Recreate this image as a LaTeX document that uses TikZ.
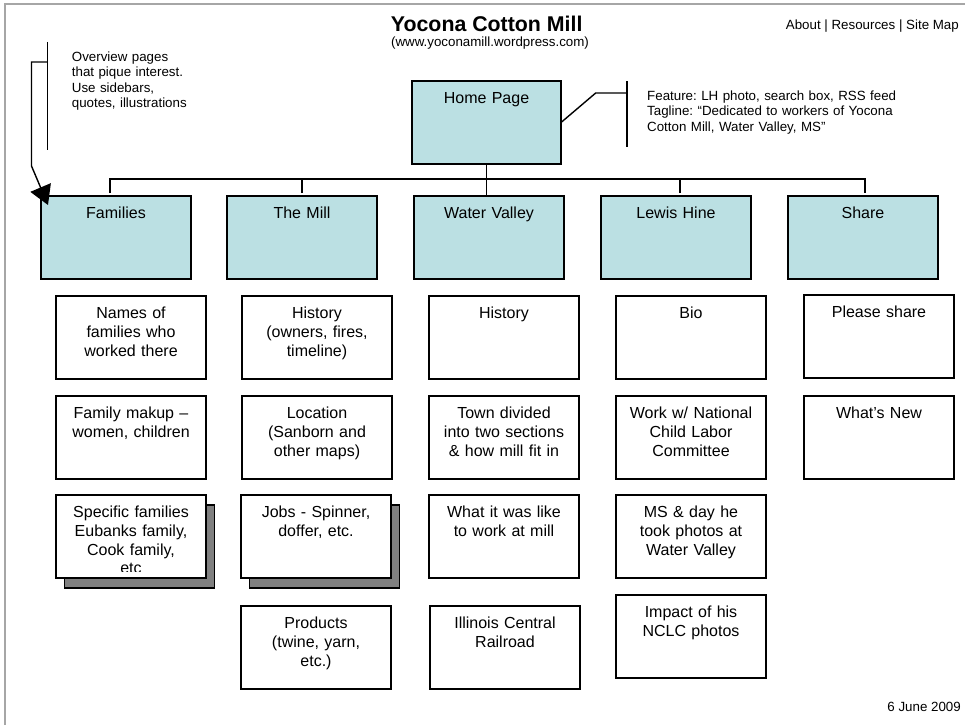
\documentclass[tikz,border=0pt]{standalone}
\usepackage{fontspec}
\setmainfont{Liberation Sans}
\usetikzlibrary{arrows.meta,calc}
\frenchspacing
\definecolor{boxcyan}{RGB}{187,224,227}
\definecolor{framegrey}{RGB}{166,166,166}
\definecolor{shadowgrey}{RGB}{128,128,128}
\tikzset{
  pg/.style={draw=black, line width=1.4pt, fill=boxcyan, minimum width=150pt, minimum height=83pt, anchor=north west, inner sep=0pt, outer sep=0pt},
  sub/.style={draw=black, line width=1.4pt, fill=white, minimum width=150pt, minimum height=83pt, anchor=north west, inner sep=0pt, outer sep=0pt},
  shadowbox/.style={draw=black, line width=1.4pt, fill=shadowgrey, minimum width=150pt, minimum height=83pt, anchor=north west, inner sep=0pt, outer sep=0pt},
  lbl/.style={anchor=base, align=center, text width=148pt, inner sep=0pt, font=\fontsize{16}{18.8}\selectfont},
  note/.style={anchor=base west, align=left, text width=300pt, inner sep=0pt, font=\fontsize{13.33}{15.5}\selectfont},
  conn/.style={line width=1.4pt, draw=black},
}
\begin{document}
\begin{tikzpicture}[x=1pt,y=-1pt]
\useasboundingbox (0,0) rectangle (965,725);
% page frame
\draw[framegrey, line width=1.8pt] (4.7,725) -- (4.7,4.3) -- (965,4.3);

% titles
\node[anchor=base, inner sep=0pt, font=\fontsize{21.33}{24}\selectfont\bfseries] (title) at (486.7,31.6) {Yocona Cotton Mill};
\node[anchor=base, inner sep=0pt, font=\fontsize{13.33}{15.5}\selectfont] (url) at (490,46) {(www.yoconamill.wordpress.com)};
\node[anchor=base east, inner sep=0pt, font=\fontsize{13.33}{15.5}\selectfont] (menu) at (959,29.5) {About | Resources | Site Map};
\node[anchor=base east, inner sep=0pt, font=\fontsize{13.33}{15.5}\selectfont] (date) at (961,711) {6 June 2009};

% home
\node[pg, minimum width=149pt] (home) at (412,81) {};
\node[lbl] (homeT) at ([yshift=-22pt]home.north) {Home Page};

% top level
\node[pg] (fam) at (41,196) {};
\node[pg] (mill) at (227,196) {};
\node[pg] (wv) at (414,196) {};
\node[pg] (lh) at (601,196) {};
\node[pg] (share) at (788,196) {};
\node[lbl] (famT) at ([yshift=-22.5pt]fam.north) {Families};
\node[lbl] (millT) at ([yshift=-22.5pt]mill.north) {The Mill};
\node[lbl] (wvT) at ([yshift=-22.5pt]wv.north) {Water Valley};
\node[lbl] (lhT) at ([yshift=-22.5pt]lh.north) {Lewis Hine};
\node[lbl] (shareT) at ([yshift=-22.5pt]share.north) {Share};

% connectors
\coordinate (bus) at (0,179);
\coordinate (t1) at (110,193);
\coordinate (t2) at (302,193);
\coordinate (t4) at (680,193);
\coordinate (t5) at (865,193);
\draw[conn] (home.south) -- (home.south |- wv.north);
\draw[conn] (t1) -- (t1 |- bus) -- (t5 |- bus) -- (t5);
\draw[conn] (t2) -- (t2 |- bus);
\draw[conn] (t4) -- (t4 |- bus);

% families column
\node[sub] (f1) at (56,296) {};
\node[lbl] (f1T) at ([yshift=-22.5pt]f1.north) {Names of\\families who\\worked there};
\node[sub] (f2) at (56,396) {};
\node[lbl] (f2T) at ([yshift=-22.5pt]f2.north) {Family makup –\\women, children};
\node[shadowbox] (f3s) at (64.5,505) {};
\node[sub] (f3) at (56,495) {};
\begin{scope}
  \clip (56,495) rectangle (206,571);
  \node[lbl] (f3T) at ([yshift=-22.5pt]f3.north) {Specific families\\Eubanks family,\\Cook family,\\etc};
\end{scope}

% mill column
\node[sub] (m1) at (242,296) {};
\node[lbl] (m1T) at ([yshift=-22.5pt]m1.north) {History\\(owners, fires,\\timeline)};
\node[sub] (m2) at (242,396) {};
\node[lbl] (m2T) at ([yshift=-22.5pt]m2.north) {Location\\(Sanborn and\\other maps)};
\node[shadowbox] (m3s) at (249.5,505) {};
\node[sub] (m3) at (241,495) {};
\node[lbl] (m3T) at ([yshift=-22.5pt]m3.north) {Jobs - Spinner,\\doffer, etc.};
\node[sub] (m4) at (241,606) {};
\node[lbl] (m4T) at ([yshift=-22.5pt]m4.north) {Products\\(twine, yarn,\\etc.)};

% water valley column
\node[sub] (w1) at (429,296) {};
\node[lbl] (w1T) at ([yshift=-22.5pt]w1.north) {History};
\node[sub] (w2) at (429,396) {};
\node[lbl] (w2T) at ([yshift=-22.5pt]w2.north) {Town divided\\into two sections\\\& how mill fit in};
\node[sub] (w3) at (429,495) {};
\node[lbl] (w3T) at ([yshift=-22.5pt]w3.north) {What it was like\\to work at mill};
\node[sub] (w4) at (430,606) {};
\node[lbl] (w4T) at ([yshift=-22.5pt]w4.north) {Illinois Central\\Railroad};

% lewis hine column
\node[sub] (l1) at (616,296) {};
\node[lbl] (l1T) at ([yshift=-22.5pt]l1.north) {Bio};
\node[sub] (l2) at (616,396) {};
\node[lbl] (l2T) at ([yshift=-22.5pt]l2.north) {Work w/ National\\Child Labor\\Committee};
\node[sub] (l3) at (616,495) {};
\node[lbl] (l3T) at ([yshift=-22.5pt]l3.north) {MS \& day he\\took photos at\\Water Valley};
\node[sub] (l4) at (616,595) {};
\node[lbl] (l4T) at ([yshift=-22.5pt]l4.north) {Impact of his\\NCLC photos};

% share column
\node[sub] (s1) at (804,295) {};
\node[lbl] (s1T) at ([yshift=-22.5pt]s1.north) {Please share};
\node[sub] (s2) at (804,396) {};
\node[lbl] (s2T) at ([yshift=-22.5pt]s2.north) {What’s New};

% overview callout
\coordinate (ovTop) at (47.7,42);
\coordinate (ovBot) at (47.7,150);
\coordinate (ovElbow) at (47.7,62);
\coordinate (ovTip) at (48,205);
\draw[conn] (ovTop) -- (ovBot);
\draw[conn, -{Triangle[length=19pt,width=22pt]}] (ovElbow) -- (31.5,62) -- (31.5,166) -- (ovTip);
\node[note] (ovText) at (71.7,61) {Overview pages\\that pique interest.\\Use sidebars,\\quotes, illustrations};

% feature callout
\coordinate (feTop) at (627,81);
\coordinate (feBot) at (627,147);
\coordinate (feMid) at (627,93);
\draw[conn] (feTop) -- (feBot);
\draw[conn] (home.east) -- (595.7,93) -- (feMid);
\node[note] (feText) at (647,100) {Feature: LH photo, search box, RSS feed\\Tagline: “Dedicated to workers of Yocona\\Cotton Mill, Water Valley, MS”};
\end{tikzpicture}
\end{document}
